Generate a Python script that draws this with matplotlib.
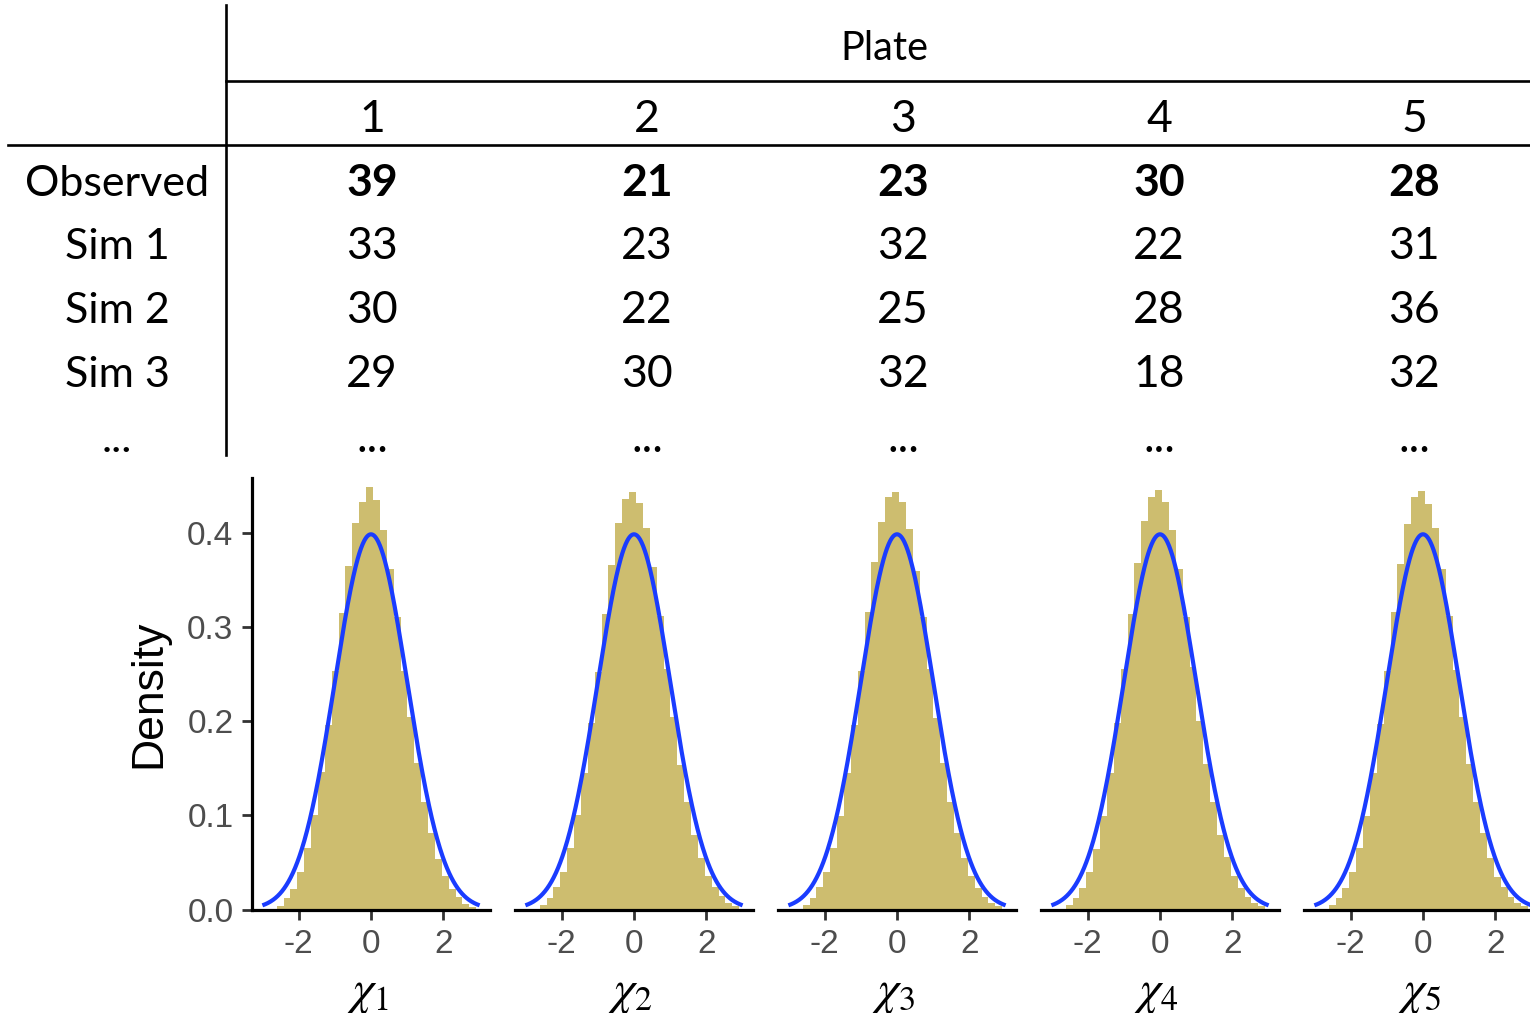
import numpy as np
import matplotlib
matplotlib.use("Agg")
import matplotlib.pyplot as plt
from matplotlib.lines import Line2D

# ---------------------------------------------------------------- data
plates = ["1", "2", "3", "4", "5"]
row_labels = ["Observed", "Sim 1", "Sim 2", "Sim 3", "..."]
observed = [39, 21, 23, 30, 28]
sim_1 = [33, 23, 32, 22, 31]
sim_2 = [30, 22, 25, 28, 36]
sim_3 = [29, 30, 32, 18, 32]

# histogram bins (shared by all plates)
bin_start = -2.605
bin_width = 0.19
n_bins = 29

# density of the simulated statistic for each plate
density_1 = [0.004, 0.012, 0.022, 0.040, 0.065, 0.100, 0.146, 0.196, 0.254, 0.315,
             0.365, 0.411, 0.433, 0.449, 0.435, 0.404, 0.362, 0.311, 0.254, 0.205,
             0.156, 0.114, 0.081, 0.054, 0.036, 0.022, 0.013, 0.006, 0.003]
density_2 = [0.005, 0.012, 0.024, 0.040, 0.065, 0.100, 0.145, 0.198, 0.253, 0.314,
             0.366, 0.411, 0.436, 0.444, 0.432, 0.406, 0.364, 0.312, 0.256, 0.205,
             0.154, 0.114, 0.079, 0.055, 0.036, 0.024, 0.014, 0.007, 0.004]
density_3 = [0.005, 0.012, 0.024, 0.040, 0.065, 0.099, 0.145, 0.196, 0.254, 0.316,
             0.369, 0.412, 0.439, 0.444, 0.433, 0.405, 0.360, 0.311, 0.256, 0.204,
             0.156, 0.114, 0.081, 0.055, 0.036, 0.023, 0.013, 0.007, 0.004]
density_4 = [0.005, 0.012, 0.023, 0.040, 0.064, 0.099, 0.145, 0.198, 0.256, 0.314,
             0.368, 0.413, 0.439, 0.446, 0.433, 0.404, 0.362, 0.311, 0.258, 0.200,
             0.155, 0.114, 0.079, 0.056, 0.036, 0.023, 0.013, 0.007, 0.004]
density_5 = [0.005, 0.012, 0.023, 0.040, 0.065, 0.099, 0.145, 0.197, 0.254, 0.316,
             0.367, 0.410, 0.439, 0.445, 0.431, 0.406, 0.362, 0.312, 0.255, 0.205,
             0.155, 0.114, 0.081, 0.055, 0.035, 0.024, 0.013, 0.007, 0.004]
densities = [density_1, density_2, density_3, density_4, density_5]

x_ticks = [-2, 0, 2]
y_ticks = [0.0, 0.1, 0.2, 0.3, 0.4]
y_tick_labels = ["0.0", "0.1", "0.2", "0.3", "0.4"]
x_labels = [r"$\chi_{%d}$" % (i + 1) for i in range(5)]

# ---------------------------------------------------------------- style
HIST_COLOR = "#CDBD6F"
CURVE_COLOR = "#1A3CFF"
TABLE_FONT = "Lato"
AXIS_FONT = "Liberation Sans"
plt.rcParams["mathtext.fontset"] = "stix"

W, H = 1530, 1013
fig = plt.figure(figsize=(W / 100, H / 100), dpi=100)


def fx(px):
    return px / W


def fy(py):
    return 1 - py / H


# ---------------------------------------------------------------- table
col_x = [372, 647, 903, 1159, 1414]
row_base = [195.5, 259, 323.3, 386.7, 451.5]
label_x = 117

fig.text(fx(884), fy(60.5), "Plate", family=TABLE_FONT, fontsize=28.5,
         ha="center", va="baseline")
for x, p in zip(col_x, plates):
    fig.text(fx(x), fy(131.7), p, family=TABLE_FONT, fontsize=32,
             ha="center", va="baseline")

rows = [observed, sim_1, sim_2, sim_3, None]
for r, (lab, vals) in enumerate(zip(row_labels, rows)):
    fig.text(fx(label_x), fy(row_base[r]), lab, family=TABLE_FONT, fontsize=31,
             ha="center", va="baseline")
    for c, x in enumerate(col_x):
        txt = "..." if vals is None else str(vals[c])
        fig.text(fx(x), fy(row_base[r]), txt, family=TABLE_FONT, fontsize=32,
                 fontweight="bold" if r == 0 else "normal",
                 ha="center", va="baseline")

line_kw = dict(color="black", linewidth=1.9, transform=fig.transFigure)
fig.add_artist(Line2D([fx(226), fx(226)], [fy(5), fy(455)], **line_kw))
fig.add_artist(Line2D([fx(226), fx(W)], [fy(81.5), fy(81.5)], **line_kw))
fig.add_artist(Line2D([fx(8), fx(W)], [fy(145), fy(145)], **line_kw))

# ---------------------------------------------------------------- histograms
edges = bin_start + bin_width * np.arange(n_bins + 1)
curve_x = np.linspace(-3, 3, 400)
curve_y = np.exp(-curve_x ** 2 / 2) / np.sqrt(2 * np.pi)

px_per_unit = 36.2
xlim = (-3.3, 3.3)
ylim = (0, 0.4588)
ax_w = (xlim[1] - xlim[0]) * px_per_unit
ax_h = 431.5
zero_y = 909.5
centers = [371, 634, 897, 1160, 1423]

for i, (cx, dens) in enumerate(zip(centers, densities)):
    left = cx + xlim[0] * px_per_unit
    ax = fig.add_axes([fx(left), fy(zero_y), ax_w / W, ax_h / H])
    ax.stairs(dens, edges, fill=True, color=HIST_COLOR, linewidth=0)
    ax.plot(curve_x, curve_y, color=CURVE_COLOR, linewidth=3.0,
            solid_capstyle="butt")
    ax.set_xlim(*xlim)
    ax.set_ylim(*ylim)
    ax.patch.set_alpha(0)
    for s in ["top", "right"]:
        ax.spines[s].set_visible(False)
    ax.spines["bottom"].set_linewidth(2.3)
    ax.spines["left"].set_linewidth(2.3)
    ax.set_xticks(x_ticks)
    ax.set_xticklabels([str(t) for t in x_ticks])
    ax.tick_params(axis="both", length=7, width=2, color="#333333",
                   labelcolor="#4D4D4D", labelsize=24)
    ax.tick_params(axis="x", pad=7)
    ax.tick_params(axis="y", pad=6)
    for lab in ax.get_xticklabels() + ax.get_yticklabels():
        lab.set_family(AXIS_FONT)
    if i == 0:
        ax.set_yticks(y_ticks)
        ax.set_yticklabels(y_tick_labels)
        for lab in ax.get_yticklabels():
            lab.set_family(AXIS_FONT)
    else:
        ax.spines["left"].set_visible(False)
        ax.set_yticks([])
    fig.text(fx(cx - 4), fy(1004), x_labels[i], fontsize=35,
             ha="center", va="baseline")

fig.text(fx(160), fy(694), "Density", family=AXIS_FONT, fontsize=32,
         rotation=90, rotation_mode="anchor", ha="center", va="baseline")

fig.savefig("out.png", dpi=100)
